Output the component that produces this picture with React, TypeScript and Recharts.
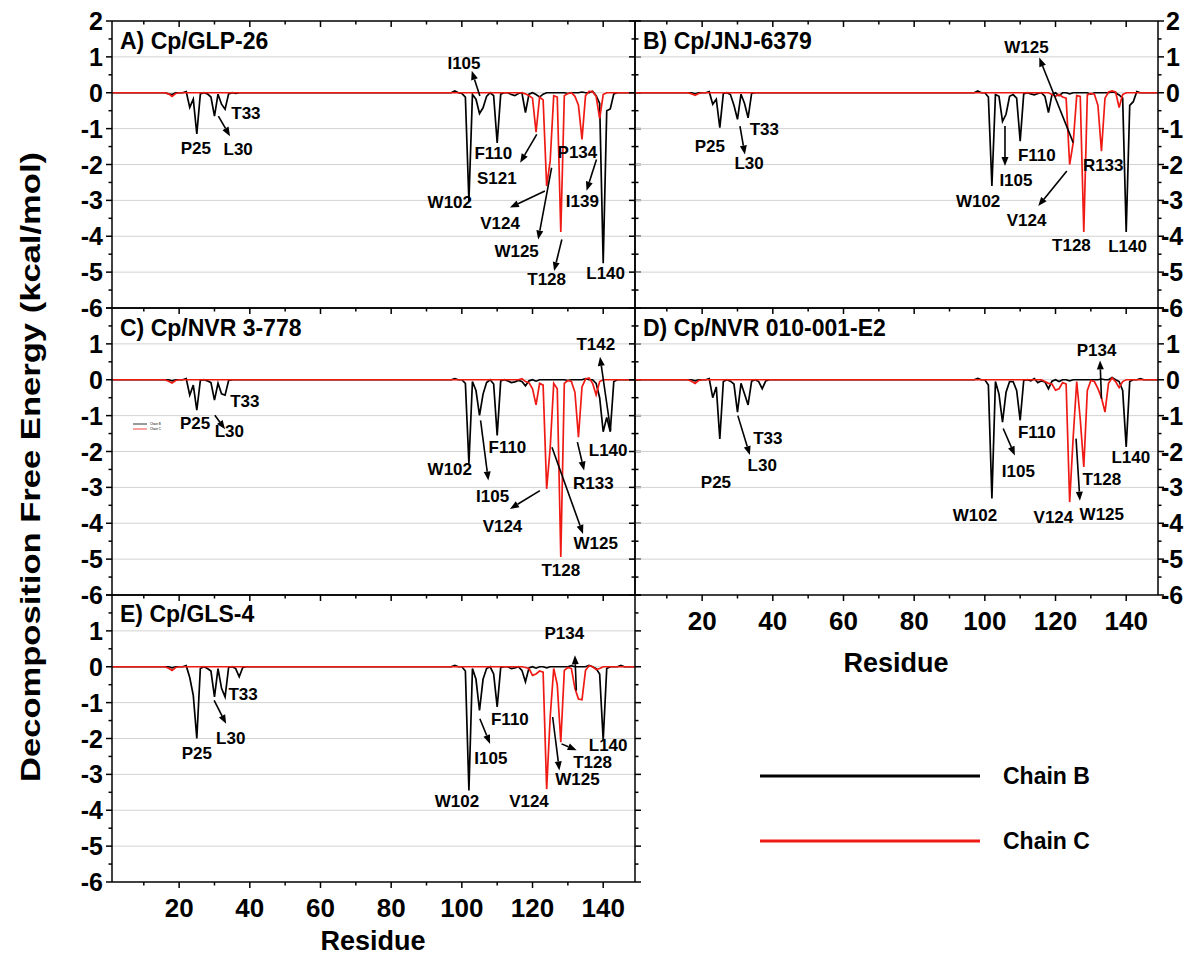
import React from 'react';
import { LineChart, Line, XAxis, YAxis, CartesianGrid, ReferenceLine, ReferenceDot } from 'recharts';

// residue numbers shared by every complex
const residues = Array.from({ length: 149 }, (_, i) => i + 1);

// per-residue decomposition energies (kcal/mol); residues not listed are ~0
const glp26ChainB: [number, number][] = [
  [17, -0.03], [18, -0.05], [22, 0.03], [23, -0.41], [24, -0.18], [25, -1.15], [26, -0.03], [28, -0.03], [29, -0.12],
  [30, -0.65], [31, -0.04], [32, -0.32], [33, -0.46], [34, -0.03], [36, -0.02], [98, 0.05], [100, -0.02], [101, -0.12],
  [102, -3.03], [103, -0.05], [104, -0.18], [105, -0.58], [106, -0.42], [107, -0.1], [109, -0.08], [110, -1.4], [111, -0.04],
  [114, -0.05], [115, -0.08], [116, -0.02], [118, -0.55], [119, -0.04], [121, -0.05], [122, -0.12], [123, -0.04], [130, -0.02],
  [134, 0.02], [137, 0.04], [138, -0.08], [139, -0.3], [140, -4.75], [141, -0.5], [142, -0.45], [143, -0.03],
];
const glp26ChainC: [number, number][] = [
  [17, -0.03], [18, -0.1], [19, -0.02], [118, -0.03], [119, -0.08], [120, -0.15], [121, -1.1], [122, -0.12], [123, -0.2],
  [124, -2.6], [125, -1.9], [126, -0.08], [127, -0.12], [128, -3.88], [129, -0.08], [130, -0.02], [132, -0.1], [133, -0.35],
  [134, -1.3], [135, -0.08], [136, 0.04], [137, 0.03], [138, -0.1], [139, -0.72], [140, -0.05],
];

const jnjChainB: [number, number][] = [
  [18, -0.03], [22, 0.03], [23, -0.32], [24, -0.18], [25, -0.97], [26, -0.02], [28, -0.05], [29, -0.35], [30, -0.74],
  [31, -0.04], [32, -0.3], [33, -0.7], [34, -0.02], [98, 0.05], [101, -0.12], [102, -2.6], [103, -0.05], [104, -0.1],
  [105, -0.8], [106, -0.6], [107, -0.1], [108, -0.05], [109, -0.15], [110, -1.35], [111, -0.03], [113, -0.03], [114, -0.06],
  [115, -0.02], [117, -0.1], [118, -0.55], [119, -0.05], [121, -0.08], [124, -0.03], [130, -0.04], [136, 0.02], [138, -0.06],
  [139, -0.15], [140, -3.88], [141, -0.35], [142, -0.25], [143, 0.03],
];
const jnjChainC: [number, number][] = [
  [17, -0.03], [18, -0.07], [19, -0.02], [119, -0.05], [120, -0.1], [121, -0.05], [122, -0.12], [123, -0.15], [124, -2.0],
  [125, -1.4], [126, -0.08], [127, -0.1], [128, -3.88], [129, -0.06], [130, -0.02], [131, -0.04], [132, -0.35], [133, -1.63],
  [134, -0.15], [135, 0.02], [136, 0.05], [137, 0.02], [138, -0.41], [139, -0.05],
];

const nvr3ChainB: [number, number][] = [
  [18, -0.03], [22, 0.03], [23, -0.43], [24, -0.15], [25, -0.85], [26, -0.02], [28, -0.03], [29, -0.08], [30, -0.57],
  [31, -0.1], [32, -0.39], [33, -0.43], [34, -0.02], [98, 0.03], [101, -0.1], [102, -2.34], [103, -0.05], [104, -0.3],
  [105, -0.99], [106, -0.4], [107, -0.08], [109, -0.12], [110, -1.55], [111, -0.03], [113, -0.03], [114, -0.08], [115, -0.06],
  [116, -0.02], [117, -0.05], [118, -0.17], [119, -0.03], [121, -0.04], [130, -0.02], [135, 0.03], [138, -0.1], [139, -0.5],
  [140, -1.45], [141, -1.05], [142, -1.45], [143, -0.05],
];
const nvr3ChainC: [number, number][] = [
  [17, -0.04], [18, -0.09], [19, -0.02], [117, 0.03], [118, -0.05], [119, -0.08], [120, -0.25], [121, -0.7], [122, -0.1],
  [123, -0.15], [124, -3.04], [125, -1.9], [126, -0.1], [127, -0.25], [128, -4.94], [129, -0.1], [130, -0.02], [131, -0.05],
  [132, -0.35], [133, -1.6], [134, -0.2], [135, 0.02], [136, 0.05], [137, -0.1], [138, -0.42], [139, -0.05],
];

const nvr010ChainB: [number, number][] = [
  [18, -0.03], [22, 0.03], [23, -0.5], [24, -0.2], [25, -1.65], [26, -0.05], [28, -0.04], [29, -0.12], [30, -0.9],
  [31, -0.1], [32, -0.4], [33, -0.7], [34, -0.04], [36, -0.05], [37, -0.25], [38, -0.03], [98, 0.04], [101, -0.15],
  [102, -3.31], [103, -0.05], [104, -0.4], [105, -1.18], [106, -0.35], [107, -0.05], [108, -0.05], [109, -0.3], [110, -1.13],
  [111, -0.02], [113, -0.03], [114, 0.03], [115, -0.08], [116, -0.03], [117, -0.06], [118, -0.25], [119, -0.04], [121, -0.05],
  [124, -0.03], [133, 0.02], [136, 0.06], [138, -0.05], [139, -0.3], [140, -1.87], [141, -0.05], [144, 0.03],
];
const nvr010ChainC: [number, number][] = [
  [17, -0.04], [18, -0.1], [19, -0.02], [117, -0.05], [118, -0.1], [119, -0.12], [120, -0.29], [121, -0.25], [122, -0.08],
  [123, -0.12], [124, -3.41], [125, -1.6], [126, -0.05], [127, -1.1], [128, -2.43], [129, -0.3], [130, -0.02], [131, -0.05],
  [132, -0.25], [133, -0.5], [134, -0.9], [135, -0.1], [136, 0.05], [137, -0.05], [138, -0.22], [139, -0.05],
];

const gls4ChainB: [number, number][] = [
  [18, -0.03], [22, 0.03], [23, -0.3], [24, -0.8], [25, -2.0], [26, -0.05], [28, -0.05], [29, -0.12], [30, -0.84],
  [31, -0.05], [32, -0.6], [33, -0.84], [34, -0.02], [36, -0.05], [37, -0.28], [38, -0.02], [98, 0.04], [101, -0.12],
  [102, -3.45], [103, -0.05], [104, -0.35], [105, -1.22], [106, -0.35], [107, -0.05], [109, -0.2], [110, -1.12], [111, -0.02],
  [114, -0.05], [115, -0.03], [117, -0.1], [118, -0.42], [119, -0.03], [121, -0.04], [124, -0.03], [131, 0.03], [136, 0.04],
  [138, -0.05], [139, -0.2], [140, -2.05], [141, -0.05], [145, 0.04],
];
const gls4ChainC: [number, number][] = [
  [17, -0.04], [18, -0.1], [19, -0.02], [118, -0.02], [119, -0.05], [120, -0.24], [121, -0.2], [122, -0.12], [123, -0.15],
  [124, -3.41], [125, -1.4], [126, -0.05], [127, -0.5], [128, -2.1], [129, -0.1], [130, -0.02], [131, -0.05], [132, -0.6],
  [133, -0.9], [134, -0.92], [135, -0.1], [136, 0.03], [138, -0.08], [139, -0.05],
];

// residue labels: text centre, optional arrow (from, to) in data units
type Note = { text: string; x: number; y: number; arrow?: [number, number, number, number] };

const glp26Notes: Note[] = [
  { text: 'P25', x: 24.7, y: -1.53 },
  { text: 'L30', x: 36.7, y: -1.56, arrow: [31.1, -0.65, 34.4, -1.21] },
  { text: 'T33', x: 38.9, y: -0.55 },
  { text: 'I105', x: 100.6, y: 0.82, arrow: [105.1, -0.09, 102.8, 0.61] },
  { text: 'F110', x: 108.9, y: -1.67 },
  { text: 'S121', x: 109.9, y: -2.37, arrow: [121.2, -1.16, 116.5, -1.95] },
  { text: 'W102', x: 96.6, y: -3.04 },
  { text: 'V124', x: 110.8, y: -3.63, arrow: [123.5, -2.74, 113.6, -3.2] },
  { text: 'W125', x: 115.5, y: -4.42, arrow: [125.4, -2.09, 121.6, -4.09] },
  { text: 'T128', x: 124, y: -5.18, arrow: [128.3, -4.09, 126.1, -4.97] },
  { text: 'P134', x: 132.7, y: -1.65 },
  { text: 'I139', x: 134.1, y: -3.02, arrow: [138.1, -1.86, 135.3, -2.73] },
  { text: 'L140', x: 140.7, y: -5.02 },
];

const jnjNotes: Note[] = [
  { text: 'P25', x: 22.2, y: -1.49 },
  { text: 'T33', x: 37.6, y: -1.02 },
  { text: 'L30', x: 33.3, y: -1.95, arrow: [30.7, -0.93, 32.1, -1.72] },
  { text: 'W125', x: 111.8, y: 1.28, arrow: [125, -1.39, 115.4, 0.98] },
  { text: 'F110', x: 114.7, y: -1.72 },
  { text: 'I105', x: 108.8, y: -2.42, arrow: [105.7, -0.93, 105.7, -2.04] },
  { text: 'W102', x: 98.1, y: -3.02 },
  { text: 'R133', x: 133.5, y: -2.0 },
  { text: 'V124', x: 111.8, y: -3.53, arrow: [123.2, -2.18, 115.1, -3.16] },
  { text: 'T128', x: 124.5, y: -4.23 },
  { text: 'L140', x: 140.4, y: -4.26 },
];

const nvr3Notes: Note[] = [
  { text: 'P25', x: 24.5, y: -1.2 },
  { text: 'L30', x: 34.2, y: -1.43, arrow: [30.1, -0.99, 33, -1.38] },
  { text: 'T33', x: 38.6, y: -0.6 },
  { text: 'W102', x: 96.6, y: -2.48 },
  { text: 'F110', x: 112.9, y: -1.88 },
  { text: 'I105', x: 108.7, y: -3.23, arrow: [105.3, -1.13, 107.5, -2.81] },
  { text: 'V124', x: 111.5, y: -4.06, arrow: [122.1, -3.09, 113.6, -3.6] },
  { text: 'W125', x: 137.9, y: -4.55, arrow: [125.5, -1.88, 134.3, -4.3] },
  { text: 'T128', x: 128, y: -5.29 },
  { text: 'R133', x: 137.2, y: -2.88, arrow: [132.7, -1.74, 134.6, -2.53] },
  { text: 'L140', x: 141.4, y: -1.95 },
  { text: 'T142', x: 137.9, y: 1.01, arrow: [142.1, -1.41, 139.1, 0.64] },
];

const nvr010Notes: Note[] = [
  { text: 'P25', x: 23.9, y: -2.84 },
  { text: 'L30', x: 37, y: -2.38, arrow: [30.1, -1.0, 33.5, -2.1] },
  { text: 'T33', x: 38.6, y: -1.61 },
  { text: 'W102', x: 97.2, y: -3.78 },
  { text: 'I105', x: 109.5, y: -2.53, arrow: [105.2, -1.36, 108.5, -2.11] },
  { text: 'F110', x: 114.7, y: -1.46 },
  { text: 'V124', x: 119.4, y: -3.83 },
  { text: 'W125', x: 133.1, y: -3.74, arrow: [125.8, -1.64, 126.9, -3.37] },
  { text: 'T128', x: 133.1, y: -2.76 },
  { text: 'L140', x: 141.3, y: -2.16 },
  { text: 'P134', x: 131.6, y: 0.82, arrow: [133, -0.53, 132.6, 0.54] },
];

const gls4Notes: Note[] = [
  { text: 'P25', x: 25, y: -2.4 },
  { text: 'L30', x: 34.6, y: -1.98, arrow: [29.9, -0.94, 33.3, -1.59] },
  { text: 'T33', x: 38.1, y: -0.75 },
  { text: 'W102', x: 98.6, y: -3.73 },
  { text: 'I105', x: 108.2, y: -2.54, arrow: [105.1, -1.45, 108, -2.15] },
  { text: 'F110', x: 113.6, y: -1.45 },
  { text: 'V124', x: 119, y: -3.73 },
  { text: 'W125', x: 132.7, y: -3.12, arrow: [125.7, -1.4, 127.6, -2.89] },
  { text: 'T128', x: 137, y: -2.66, arrow: [128.2, -2.15, 132.5, -2.33] },
  { text: 'L140', x: 141.4, y: -2.17 },
  { text: 'P134', x: 129, y: 0.94, arrow: [132.4, -0.66, 132, 0.32] },
];

const yTickValues = [-6, -5.5, -5, -4.5, -4, -3.5, -3, -2.5, -2, -1.5, -1, -0.5, 0, 0.5, 1, 1.5, 2];
const xTickValues = [10, 20, 30, 40, 50, 60, 70, 80, 90, 100, 110, 120, 130, 140];
const gridValues = [-5, -4, -3, -2, -1, 0, 1];

const FONT = "'Liberation Sans', Arial, sans-serif";
const RED = '#f01a14';
const PLOT_W = 523;
const PLOT_H = 287;
const AXIS_L = 60;
const AXIS_R = 60;
const PAD_T = 20;
const AXIS_B = 45;

function buildRows(chainB: [number, number][], chainC: [number, number][]) {
  const b = new Map(chainB);
  const c = new Map(chainC);
  return residues.map((r) => ({ r, b: b.get(r) ?? 0, c: c.get(r) ?? 0 }));
}

const yTick = (side: 'left' | 'right', showLabels: boolean, withTop: boolean) => (props: any) => {
  const { x, y, payload } = props;
  const v = payload.value as number;
  const major = Number.isInteger(v);
  const d = side === 'left' ? -1 : 1;
  const len = major ? 6 : 3.5;
  const label = showLabels && major && (withTop || v < 2);
  return (
    <g>
      <line x1={x} y1={y} x2={x + d * len} y2={y} stroke="#000" strokeWidth={1.5} />
      {label && (
        <text
          x={side === 'left' ? x - 9 : x + (v < 0 ? 3 : 8)}
          y={y}
          dy="0.36em"
          textAnchor={side === 'left' ? 'end' : 'start'}
          fontSize={25}
          fontWeight={700}
          fontFamily={FONT}
          fill="#000"
        >
          {v}
        </text>
      )}
    </g>
  );
};

const xTick = (showLabels: boolean, topTicks: boolean) => (props: any) => {
  const { x, y, payload } = props;
  const v = payload.value as number;
  const major = v % 20 === 0;
  const len = major ? 6 : 3.5;
  return (
    <g>
      <line x1={x} y1={y} x2={x} y2={y + len} stroke="#000" strokeWidth={1.5} />
      {topTicks && <line x1={x} y1={y - PLOT_H} x2={x} y2={y - PLOT_H + len} stroke="#000" strokeWidth={1.5} />}
      {showLabels && major && (
        <text x={x} y={y + 26} dy="0.36em" textAnchor="middle" fontSize={26} fontWeight={700} fontFamily={FONT} fill="#000">
          {v}
        </text>
      )}
    </g>
  );
};

const arrowShape = (p: any) => {
  const { x1, y1, x2, y2 } = p;
  const ang = Math.atan2(y2 - y1, x2 - x1);
  const L = 9;
  const W = 3.5;
  const bx = x2 - L * Math.cos(ang);
  const by = y2 - L * Math.sin(ang);
  const px = -Math.sin(ang) * W;
  const py = Math.cos(ang) * W;
  return (
    <g>
      <line x1={x1} y1={y1} x2={bx} y2={by} stroke="#000" strokeWidth={1.6} />
      <polygon points={`${x2},${y2} ${bx + px},${by + py} ${bx - px},${by - py}`} fill="#000" />
    </g>
  );
};

const noteText = (text: string) => (p: any) => (
  <text x={p.cx} y={p.cy} dy="0.36em" textAnchor="middle" fontSize={17} fontWeight={700} fontFamily={FONT} fill="#000">
    {text}
  </text>
);

interface PanelProps {
  left: number;
  top: number;
  chainB: [number, number][];
  chainC: [number, number][];
  notes: Note[];
  side: 'left' | 'right';
  topLabel: boolean;
  xLabels: boolean;
  topTicks: boolean;
}

function Panel({ left, top, chainB, chainC, notes, side, topLabel, xLabels, topTicks }: PanelProps) {
  const rows = buildRows(chainB, chainC);
  return (
    <div style={{ position: 'absolute', left: left - AXIS_L, top: top - PAD_T }}>
      <LineChart
        width={AXIS_L + PLOT_W + AXIS_R}
        height={PAD_T + PLOT_H + AXIS_B}
        data={rows}
        margin={{ top: PAD_T, right: 0, bottom: 0, left: 0 }}
      >
        <CartesianGrid vertical={false} horizontalValues={gridValues} stroke="#d2d2d2" strokeWidth={1} />
        <XAxis
          dataKey="r"
          type="number"
          domain={[1, 149]}
          allowDataOverflow
          ticks={xTickValues}
          interval={0}
          height={AXIS_B}
          tickSize={0}
          tickMargin={0}
          tickLine={false}
          axisLine={{ stroke: '#000', strokeWidth: 1.5 }}
          tick={xTick(xLabels, topTicks)}
        />
        <YAxis
          type="number"
          domain={[-6, 2]}
          allowDataOverflow
          ticks={yTickValues}
          interval={0}
          width={AXIS_L}
          tickSize={0}
          tickMargin={0}
          tickLine={false}
          axisLine={{ stroke: '#000', strokeWidth: 1.5 }}
          tick={yTick('left', side === 'left', topLabel)}
        />
        <YAxis
          yAxisId="r"
          orientation="right"
          type="number"
          domain={[-6, 2]}
          allowDataOverflow
          ticks={yTickValues}
          interval={0}
          width={AXIS_R}
          tickSize={0}
          tickMargin={0}
          tickLine={false}
          axisLine={{ stroke: '#000', strokeWidth: 1.5 }}
          tick={yTick('right', side === 'right', topLabel)}
        />
        <ReferenceLine y={2} stroke="#000" strokeWidth={1.5} />
        <Line type="linear" dataKey="b" stroke="#000" strokeWidth={1.7} dot={false} isAnimationActive={false} />
        <Line type="linear" dataKey="c" stroke={RED} strokeWidth={1.7} dot={false} isAnimationActive={false} />
        {notes
          .filter((n) => n.arrow)
          .map((n, i) => (
            <ReferenceLine
              key={'a' + i}
              segment={[
                { x: n.arrow![0], y: n.arrow![1] },
                { x: n.arrow![2], y: n.arrow![3] },
              ]}
              shape={arrowShape}
            />
          ))}
        {notes.map((n, i) => (
          <ReferenceDot key={'t' + i} x={n.x} y={n.y} r={0} shape={noteText(n.text)} />
        ))}
      </LineChart>
    </div>
  );
}

const titleStyle = { fontSize: 23, fontWeight: 700, fontFamily: FONT, fill: '#000' } as const;

export default function App() {
  return (
    <div style={{ position: 'relative', width: 1195, height: 965, margin: -8, background: '#fff', overflow: 'hidden' }}>
      <Panel left={112} top={21} chainB={glp26ChainB} chainC={glp26ChainC} notes={glp26Notes} side="left" topLabel xLabels={false} topTicks />
      <Panel left={635} top={21} chainB={jnjChainB} chainC={jnjChainC} notes={jnjNotes} side="right" topLabel xLabels={false} topTicks />
      <Panel left={112} top={308} chainB={nvr3ChainB} chainC={nvr3ChainC} notes={nvr3Notes} side="left" topLabel={false} xLabels={false} topTicks={false} />
      <Panel left={635} top={308} chainB={nvr010ChainB} chainC={nvr010ChainC} notes={nvr010Notes} side="right" topLabel={false} xLabels topTicks={false} />
      <Panel left={112} top={595} chainB={gls4ChainB} chainC={gls4ChainC} notes={gls4Notes} side="left" topLabel={false} xLabels topTicks={false} />

      <svg width={1195} height={965} style={{ position: 'absolute', left: 0, top: 0, pointerEvents: 'none' }}>
        <text x={120} y={49} {...titleStyle}>A) Cp/GLP-26</text>
        <text x={643} y={49} {...titleStyle}>B) Cp/JNJ-6379</text>
        <text x={120} y={336} {...titleStyle}>C) Cp/NVR 3-778</text>
        <text x={643} y={336} {...titleStyle}>D) Cp/NVR 010-001-E2</text>
        <text x={120} y={622} {...titleStyle}>E) Cp/GLS-4</text>

        <text
          transform="translate(30,467) rotate(-90)"
          textAnchor="middle"
          dy="0.36em"
          fontSize={28}
          fontWeight={700}
          fontFamily={FONT}
          textLength={630}
          lengthAdjust="spacingAndGlyphs"
        >
          Decomposition Free Energy (kcal/mol)
        </text>
        <text x={373} y={940} dy="0.36em" textAnchor="middle" fontSize={27} fontWeight={700} fontFamily={FONT}>Residue</text>
        <text x={896} y={662} dy="0.36em" textAnchor="middle" fontSize={27} fontWeight={700} fontFamily={FONT}>Residue</text>

        {/* small inset key in panel C */}
        <line x1={133} y1={424} x2={147} y2={424} stroke="#000" strokeWidth={0.8} />
        <text x={150} y={425} fontSize={3} fontFamily={FONT}>Chain B</text>
        <line x1={133} y1={429} x2={147} y2={429} stroke={RED} strokeWidth={0.8} />
        <text x={150} y={430} fontSize={3} fontFamily={FONT}>Chain C</text>

        {/* main key */}
        <line x1={760} y1={776} x2={980} y2={776} stroke="#000" strokeWidth={3} />
        <text x={1003} y={776} dy="0.36em" fontSize={23} fontWeight={700} fontFamily={FONT}>Chain B</text>
        <line x1={760} y1={841} x2={980} y2={841} stroke={RED} strokeWidth={3} />
        <text x={1003} y={841} dy="0.36em" fontSize={23} fontWeight={700} fontFamily={FONT}>Chain C</text>
      </svg>
    </div>
  );
}
